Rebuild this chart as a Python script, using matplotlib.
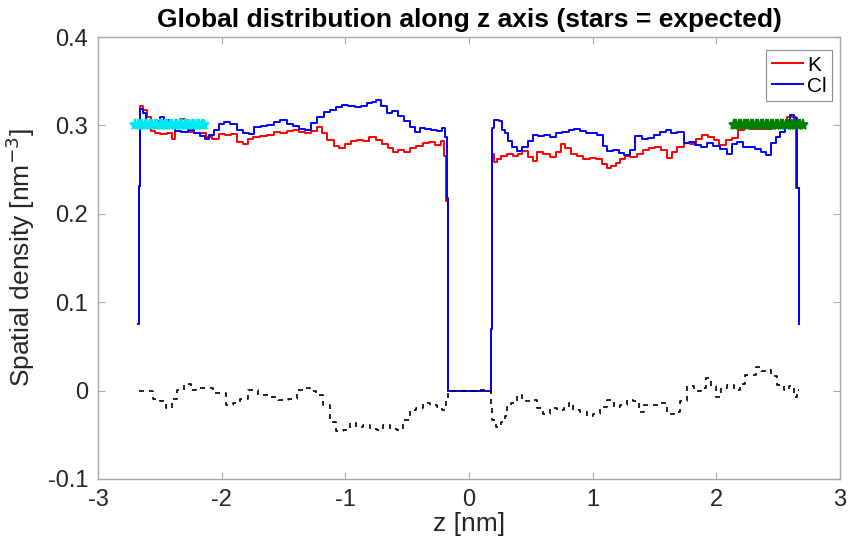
import matplotlib
matplotlib.use("Agg")
import matplotlib.pyplot as plt

plt.rcParams["font.family"] = ["Liberation Sans", "DejaVu Sans"]
plt.rcParams["axes.unicode_minus"] = False

# ─── Data ─────────────────────────────────────────────────────────────────────
# K (red) density profile along z
k_z = [-2.675, -2.665, -2.655, -2.62, -2.59, -2.56, -2.52, -2.47, -2.42, -2.39,
       -2.36, -2.32, -2.28, -2.25, -2.20, -2.15, -2.10, -2.05, -2.00, -1.95,
       -1.90, -1.85, -1.81, -1.77, -1.72, -1.66, -1.60, -1.55, -1.50, -1.45,
       -1.40, -1.35, -1.30, -1.25, -1.21, -1.17, -1.12, -1.07, -1.03, -0.98,
       -0.93, -0.88, -0.83, -0.78, -0.73, -0.68, -0.63, -0.60, -0.55, -0.50,
       -0.45, -0.40, -0.35, -0.30, -0.25, -0.21, -0.19, -0.175, -0.17, -0.165,
       0.0, 0.175, 0.18, 0.185, 0.19, 0.21, 0.24, 0.28, 0.33, 0.38,
       0.41, 0.45, 0.50, 0.53, 0.57, 0.63, 0.68, 0.72, 0.76, 0.80,
       0.85, 0.90, 0.95, 1.00, 1.05, 1.10, 1.13, 1.17, 1.20, 1.25,
       1.28, 1.33, 1.38, 1.43, 1.48, 1.53, 1.58, 1.62, 1.66, 1.71,
       1.76, 1.81, 1.86, 1.91, 1.96, 2.00, 2.05, 2.10, 2.15, 2.20,
       2.25, 2.30, 2.40, 2.50, 2.55, 2.60, 2.635, 2.66, 2.67]
k_rho = [0.075, 0.232, 0.322, 0.318, 0.310, 0.294, 0.292, 0.290, 0.291, 0.285,
         0.297, 0.307, 0.306, 0.293, 0.292, 0.291, 0.287, 0.285, 0.290, 0.289,
         0.290, 0.281, 0.279, 0.285, 0.287, 0.288, 0.289, 0.293, 0.291, 0.294,
         0.295, 0.293, 0.292, 0.294, 0.298, 0.291, 0.283, 0.277, 0.274, 0.279,
         0.282, 0.283, 0.282, 0.287, 0.284, 0.279, 0.274, 0.270, 0.272, 0.270,
         0.275, 0.277, 0.280, 0.281, 0.278, 0.282, 0.265, 0.215, 0.065, 0.0,
         0.0, 0.0, 0.070, 0.210, 0.268, 0.259, 0.262, 0.266, 0.268, 0.266,
         0.268, 0.271, 0.264, 0.260, 0.270, 0.268, 0.264, 0.270, 0.279, 0.274,
         0.268, 0.265, 0.262, 0.263, 0.262, 0.256, 0.252, 0.254, 0.258, 0.262,
         0.266, 0.264, 0.268, 0.272, 0.275, 0.276, 0.272, 0.263, 0.270, 0.276,
         0.280, 0.279, 0.285, 0.289, 0.287, 0.283, 0.278, 0.283, 0.286, 0.295,
         0.297, 0.296, 0.296, 0.298, 0.302, 0.310, 0.310, 0.229, 0.075]

# Cl (blue) density profile along z
cl_z = [-2.675, -2.665, -2.655, -2.62, -2.60, -2.56, -2.52, -2.48, -2.45, -2.40,
        -2.35, -2.30, -2.25, -2.20, -2.15, -2.12, -2.08, -2.04, -2.00, -1.96,
        -1.90, -1.85, -1.80, -1.76, -1.71, -1.66, -1.60, -1.55, -1.50, -1.45,
        -1.40, -1.35, -1.30, -1.25, -1.20, -1.15, -1.10, -1.05, -1.00, -0.95,
        -0.90, -0.85, -0.80, -0.77, -0.73, -0.69, -0.64, -0.60, -0.55, -0.50,
        -0.46, -0.42, -0.38, -0.33, -0.28, -0.24, -0.20, -0.185, -0.175, -0.17,
        -0.165, 0.0, 0.175, 0.18, 0.185, 0.19, 0.22, 0.26, 0.28, 0.30,
        0.33, 0.37, 0.41, 0.45, 0.50, 0.53, 0.58, 0.63, 0.68, 0.73,
        0.78, 0.83, 0.87, 0.92, 0.97, 1.01, 1.06, 1.10, 1.14, 1.19,
        1.23, 1.28, 1.32, 1.37, 1.42, 1.47, 1.52, 1.57, 1.61, 1.66,
        1.71, 1.76, 1.80, 1.85, 1.90, 1.95, 2.00, 2.06, 2.11, 2.15,
        2.19, 2.24, 2.29, 2.34, 2.39, 2.42, 2.46, 2.50, 2.53, 2.58,
        2.61, 2.64, 2.66, 2.67]
cl_rho = [0.075, 0.232, 0.319, 0.314, 0.302, 0.300, 0.305, 0.310, 0.306, 0.297,
          0.294, 0.293, 0.295, 0.292, 0.288, 0.285, 0.289, 0.295, 0.302, 0.304,
          0.302, 0.295, 0.291, 0.290, 0.298, 0.299, 0.301, 0.304, 0.306, 0.302,
          0.299, 0.296, 0.295, 0.303, 0.310, 0.315, 0.318, 0.321, 0.323, 0.322,
          0.321, 0.322, 0.325, 0.327, 0.329, 0.322, 0.314, 0.316, 0.311, 0.305,
          0.298, 0.293, 0.297, 0.296, 0.295, 0.294, 0.297, 0.287, 0.218, 0.069,
          0.0, 0.0, 0.0, 0.070, 0.227, 0.297, 0.306, 0.305, 0.295, 0.292,
          0.282, 0.276, 0.271, 0.276, 0.282, 0.289, 0.288, 0.289, 0.287, 0.291,
          0.293, 0.295, 0.296, 0.294, 0.292, 0.291, 0.289, 0.277, 0.271, 0.272,
          0.269, 0.267, 0.272, 0.288, 0.285, 0.286, 0.289, 0.293, 0.295, 0.291,
          0.293, 0.280, 0.281, 0.278, 0.276, 0.280, 0.277, 0.273, 0.268, 0.279,
          0.281, 0.276, 0.276, 0.273, 0.270, 0.267, 0.280, 0.287, 0.293, 0.300,
          0.312, 0.309, 0.229, 0.075]

# difference K - Cl (black dashed)
diff_z = [-2.665, -2.58, -2.53, -2.475, -2.42, -2.38, -2.34, -2.27, -2.23, -2.18,
          -2.10, -2.04, -1.99, -1.935, -1.88, -1.83, -1.75, -1.665, -1.585, -1.50,
          -1.42, -1.355, -1.31, -1.26, -1.21, -1.15, -1.10, -1.045, -0.99, -0.94,
          -0.88, -0.83, -0.775, -0.72, -0.67, -0.61, -0.56, -0.505, -0.45, -0.40,
          -0.34, -0.29, -0.235, -0.195, -0.17, -0.165, 0.0, 0.17, 0.18, 0.20,
          0.24, 0.28, 0.30, 0.32, 0.36, 0.41, 0.44, 0.48, 0.52, 0.575,
          0.63, 0.68, 0.74, 0.79, 0.82, 0.87, 0.93, 0.98, 1.03, 1.09,
          1.14, 1.20, 1.25, 1.30, 1.36, 1.385, 1.44, 1.52, 1.57, 1.63,
          1.68, 1.735, 1.79, 1.845, 1.90, 1.94, 1.98, 2.02, 2.06, 2.11,
          2.17, 2.22, 2.25, 2.30, 2.34, 2.38, 2.42, 2.46, 2.52, 2.57,
          2.61, 2.64, 2.665]
diff_rho = [-0.001, -0.001, -0.009, -0.012, -0.020, -0.009, 0.001, 0.008, 0.001, 0.003,
            0.003, -0.003, -0.003, -0.016, -0.014, -0.009, 0.001, -0.005, -0.007, -0.011,
            -0.009, 0.001, 0.003, -0.001, -0.005, -0.016, -0.035, -0.046, -0.045, -0.037,
            -0.041, -0.039, -0.043, -0.045, -0.039, -0.043, -0.045, -0.033, -0.022, -0.020,
            -0.014, -0.016, -0.018, -0.022, -0.011, 0.0, 0.0, 0.001, -0.016, -0.033,
            -0.041, -0.035, -0.029, -0.018, -0.014, -0.005, -0.009, -0.012, -0.011, -0.020,
            -0.026, -0.020, -0.022, -0.020, -0.014, -0.022, -0.024, -0.029, -0.026, -0.018,
            -0.011, -0.018, -0.016, -0.011, -0.012, -0.024, -0.016, -0.016, -0.014, -0.026,
            -0.024, -0.012, 0.005, -0.001, 0.003, 0.014, 0.005, -0.007, 0.003, 0.006,
            0.001, 0.008, 0.018, 0.018, 0.027, 0.022, 0.023, 0.016, 0.006, 0.001,
            0.005, -0.007, 0.001]

# expected densities (stars)
exp_left_z = [-2.70, -2.68, -2.66, -2.64, -2.62, -2.60, -2.58, -2.56, -2.54, -2.52,
              -2.50, -2.48, -2.46, -2.44, -2.42, -2.40, -2.38, -2.36, -2.34, -2.32,
              -2.30, -2.28, -2.26, -2.24, -2.22, -2.20, -2.18, -2.16, -2.14]
exp_right_z = [2.14, 2.16, 2.18, 2.20, 2.22, 2.24, 2.26, 2.28, 2.30, 2.32,
               2.34, 2.36, 2.38, 2.40, 2.42, 2.44, 2.46, 2.48, 2.50, 2.52,
               2.54, 2.56, 2.58, 2.60, 2.62, 2.64, 2.66, 2.68, 2.70]
exp_rho = 0.30

x_ticks = [-3, -2, -1, 0, 1, 2, 3]
y_ticks = [-0.1, 0, 0.1, 0.2, 0.3, 0.4]
y_ticklabels = ["-0.1", "0", "0.1", "0.2", "0.3", "0.4"]

# ─── Plot ─────────────────────────────────────────────────────────────────────
fig = plt.figure(figsize=(8.49, 5.51), dpi=100)
ax = fig.add_axes([0.1154, 0.1307, 0.874, 0.802])

ax.plot(k_z, k_rho, color="#ff0000", lw=1.4, drawstyle="steps-mid", label="K")
ax.plot(cl_z, cl_rho, color="#0000ff", lw=1.4, drawstyle="steps-mid", label="Cl")
ax.plot(diff_z, diff_rho, color="black", lw=1.2, drawstyle="steps-mid",
        linestyle=(0, (3, 3)))
ax.plot(exp_left_z, [exp_rho] * len(exp_left_z), "*", color="#00e8f0", ms=8, mew=1.2)
ax.plot(exp_right_z, [exp_rho] * len(exp_right_z), "*", color="#008000", ms=8, mew=1.2)

ax.set_xlim(-3, 3)
ax.set_ylim(-0.1, 0.4)
ax.set_xticks(x_ticks)
ax.set_yticks(y_ticks)
ax.set_yticklabels(y_ticklabels)

axis_grey = "#a8a8a8"
for sp in ax.spines.values():
    sp.set_color(axis_grey)
    sp.set_linewidth(1.0)
ax.tick_params(direction="in", top=True, right=True, length=5, width=0.8,
               color=axis_grey, labelcolor="#262626", labelsize=17, pad=7)

ax.set_title("Global distribution along z axis (stars = expected)",
             fontsize=19, fontweight="bold", color="black", pad=7)
ax.set_xlabel("z [nm]", fontsize=19, color="#262626", labelpad=1)
ax.set_ylabel(r"Spatial density [nm$^{-3}$]", fontsize=19, color="#262626", labelpad=8)

leg = ax.legend(loc="upper right", bbox_to_anchor=(0.989, 0.97), fontsize=15,
                handlelength=1.5, handletextpad=0.2, borderaxespad=0.0,
                fancybox=False, framealpha=1, borderpad=0.25, labelspacing=0.1)
leg.get_frame().set_edgecolor("#8c8c8c")
leg.get_frame().set_linewidth(0.8)

fig.savefig("out.png", dpi=100)
